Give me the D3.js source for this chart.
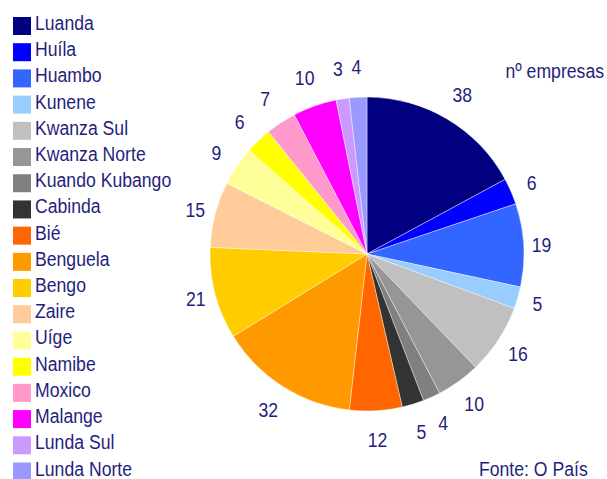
<!DOCTYPE html>
<html>
<head>
<meta charset="utf-8">
<script src="https://cdn.jsdelivr.net/npm/d3@7"></script>
<style>
  body { margin: 0; background: #fff; }
  text { font-family: "Liberation Sans", Arial, sans-serif; font-size: 21px; fill: #1f1f7d; }
</style>
</head>
<body>
<div id="chart"></div>
<script>
const provinces = ['Luanda', 'Huíla', 'Huambo', 'Kunene', 'Kwanza Sul', 'Kwanza Norte', 'Kuando Kubango',
    'Cabinda', 'Bié', 'Benguela', 'Bengo', 'Zaire', 'Uíge', 'Namibe', 'Moxico', 'Malange', 'Lunda Sul', 'Lunda Norte'];
const companies = [38, 6, 19, 5, 16, 10, 4, 5, 12, 32, 21, 15, 9, 6, 7, 10, 3, 4];
const colors = ['#000080', '#0000ff', '#3366ff', '#99ccff', '#c0c0c0', '#969696', '#808080', '#333333',
    '#ff6600', '#ff9900', '#ffcc00', '#ffcc99', '#ffff99', '#ffff00', '#ff99cc', '#ff00ff', '#cc99ff', '#9999ff'];

const width = 607;
const height = 479;
const cx = 367, cy = 254, radius = 157;
const squeeze = 0.84; // the original font is a narrow one

const svg = d3.select('#chart')
    .append('svg')
    .attr('width', width)
    .attr('height', height);

const color = d3.scaleOrdinal().domain(provinces).range(colors);

const pie = d3.pie().sort(null).value(d => d.value);
const arcs = pie(provinces.map((p, i) => ({ name: p, value: companies[i] })));
const arc = d3.arc().innerRadius(0).outerRadius(radius);

const g = svg.append('g').attr('transform', `translate(${cx}, ${cy})`);

g.selectAll('path')
    .data(arcs)
    .enter()
    .append('path')
        .attr('d', arc)
        .attr('fill', d => color(d.data.name))
        .attr('stroke', '#fff')
        .attr('stroke-width', 0.4);

// value labels, pushed out more at top/bottom than at the sides
const labelPos = d => {
    const a = (d.startAngle + d.endAngle) / 2;
    const c = Math.cos(a);
    const r = radius + 17 + (c > 0 ? 14 : 12) * Math.abs(c);
    return [r * Math.sin(a), -r * c];
};

g.selectAll('text.val')
    .data(arcs)
    .enter()
    .append('text')
        .attr('class', 'val')
        .attr('text-anchor', 'middle')
        .attr('dy', '0.36em')
        .attr('transform', d => `translate(${labelPos(d)}) scale(${squeeze}, 1)`)
        .text(d => d.data.value);

// legend
const legendY = d3.scaleLinear().domain([0, provinces.length - 1]).range([17, 462.5]);

const legend = svg.append('g')
    .selectAll('g')
    .data(provinces)
    .enter()
    .append('g')
        .attr('transform', (d, i) => `translate(13, ${legendY(i)})`);

legend.append('rect')
    .attr('width', 18)
    .attr('height', 18)
    .attr('fill', d => color(d));

legend.append('text')
    .attr('transform', `translate(22, 13) scale(${squeeze}, 1)`)
    .text(d => d);

svg.append('text')
    .attr('transform', `translate(604, 78) scale(${squeeze}, 1)`)
    .attr('text-anchor', 'end')
    .text('nº empresas');

svg.append('text')
    .attr('transform', `translate(479, 476) scale(${squeeze}, 1)`)
    .text('Fonte: O País');
</script>
</body>
</html>
